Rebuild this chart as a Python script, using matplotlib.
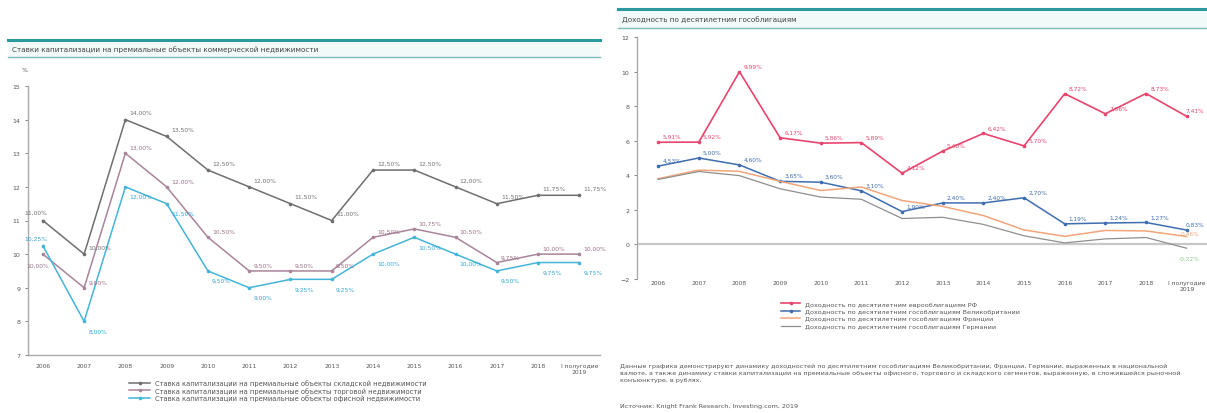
import matplotlib.pyplot as plt
import matplotlib.lines as mlines
import matplotlib.patches as mpatches
import numpy as np

plt.rcParams['font.family'] = ['DejaVu Sans']

years = ["2006", "2007", "2008", "2009", "2010", "2011", "2012", "2013",
         "2014", "2015", "2016", "2017", "2018", "I полугодие\n2019"]

# cap rates, %
cap_warehouse = [11.00, 10.00, 14.00, 13.50, 12.50, 12.00, 11.50, 11.00,
                 12.50, 12.50, 12.00, 11.50, 11.75, 11.75]
cap_retail = [10.00, 9.00, 13.00, 12.00, 10.50, 9.50, 9.50, 9.50,
              10.50, 10.75, 10.50, 9.75, 10.00, 10.00]
cap_office = [10.25, 8.00, 12.00, 11.50, 9.50, 9.00, 9.25, 9.25,
              10.00, 10.50, 10.00, 9.50, 9.75, 9.75]

# 10y bond yields, %
y_russia = [5.91, 5.92, 9.99, 6.17, 5.86, 5.89, 4.12, 5.40,
            6.42, 5.70, 8.72, 7.56, 8.73, 7.41]
y_uk = [4.53, 5.00, 4.60, 3.65, 3.60, 3.10, 1.90, 2.40,
        2.40, 2.70, 1.19, 1.24, 1.27, 0.83]
y_france = [3.80, 4.30, 4.23, 3.65, 3.12, 3.32, 2.54, 2.20,
            1.67, 0.84, 0.47, 0.81, 0.78, 0.46]
y_germany = [3.76, 4.22, 3.98, 3.22, 2.74, 2.61, 1.50, 1.57,
             1.16, 0.50, 0.09, 0.32, 0.40, -0.22]

left_labels = [
    "Ставка капитализации на премиальные объекты складской недвижимости",
    "Ставка капитализации на премиальные объекты торговой недвижимости",
    "Ставка капитализации на премиальные объекты офисной недвижимости",
]
right_labels = [
    "Доходность по десятилетним еврооблигациям РФ",
    "Доходность по десятилетним гособлигациям Великобритании",
    "Доходность по десятилетним гособлигациям Франции",
    "Доходность по десятилетним гособлигациям Германии",
]


def pct(v):
    return f"{v:.2f}%".replace(".", ",")


W, H = 1207, 414
fig = plt.figure(figsize=(W / 100, H / 100), dpi=100)


def band(x0, x1, ytop, ybot):
    # title band: thick teal line, light fill, thin line below
    fig.patches.append(mpatches.Rectangle((x0 / W, 1 - ybot / H), (x1 - x0) / W, (ybot - ytop) / H,
                                          transform=fig.transFigure, facecolor="#f1f9f9",
                                          edgecolor="none", zorder=0))
    fig.lines.append(mlines.Line2D([x0 / W, x1 / W], [1 - ytop / H] * 2, transform=fig.transFigure,
                                   color="#2a9a9e", lw=2.2))
    fig.lines.append(mlines.Line2D([x0 / W, x1 / W], [1 - ybot / H] * 2, transform=fig.transFigure,
                                   color="#7bbcb8", lw=1.0))


band(8, 600, 41, 58)
band(618, 1207, 10, 29)
fig.text(12 / W, 1 - 50 / H, "Ставки капитализации на премиальные объекты коммерческой недвижимости",
         fontsize=5.2, color="#444444", va="center")
fig.text(622 / W, 1 - 20 / H, "Доходность по десятилетним гособлигациям",
         fontsize=5.2, color="#444444", va="center")

x = np.arange(len(years))

# ---- left chart
ax1 = fig.add_axes([28 / W, 1 - 356 / H, (600 - 28) / W, (356 - 87) / H])
ax1.set_xlim(-0.36, 13.5)
ax1.set_ylim(7, 15)
left_cols = ["#6f6f6f", "#a9849a", "#44b4d8"]
left_txt = ["#6f6f6f", "#9a6f88", "#2ea6d6"]
left_off = [(3, 4), (3, 3), (3, -8)]
first_off = [(-5, 5), (-4, -9), (-5, 4)]  # 2006 labels sit over the axis
for vals, lab, c, tc, off, fo in zip([cap_warehouse, cap_retail, cap_office], left_labels,
                                      left_cols, left_txt, left_off, first_off):
    ax1.plot(x, vals, color=c, lw=1.1, marker="o", ms=1.6, label=lab)
    for xi, v in zip(x, vals):
        if xi == 0:
            ax1.annotate(pct(v), (xi, v), xytext=fo, textcoords="offset points",
                         fontsize=4.3, color=tc, ha="center")
        else:
            ax1.annotate(pct(v), (xi, v), xytext=off, textcoords="offset points",
                         fontsize=4.3, color=tc)
ax1.set_xticks(x)
ax1.set_xticklabels(years, fontsize=4.3, color="#555555")
ax1.set_yticks(range(7, 16))
ax1.tick_params(axis="y", labelsize=4.5, colors="#555555", length=2, width=0.5)
ax1.tick_params(axis="x", length=0, pad=6, colors="#555555")
for s in ["top", "right"]:
    ax1.spines[s].set_visible(False)
for s in ["left", "bottom"]:
    ax1.spines[s].set_color("#aaaaaa")
    ax1.spines[s].set_linewidth(1.0)
fig.text(25 / W, 1 - 72 / H, "%", fontsize=4.5, color="#555555", ha="center")
h1, l1 = ax1.get_legend_handles_labels()
fig.legend(h1, l1, loc="upper left", bbox_to_anchor=(126 / W, 1 - 377 / H), frameon=False,
           fontsize=4.9, handlelength=3, labelspacing=0.1, borderpad=0,
           labelcolor="#555555")

# ---- right chart
ax2 = fig.add_axes([637 / W, 1 - 280 / H, (1207 - 637) / W, (280 - 38) / H])
ax2.set_xlim(-0.52, 13.5)
ax2.set_ylim(-2, 12)
ax2.axhline(0, color="#c8c8c8", lw=1.6, zorder=1)
right_cols = ["#e8456e", "#3e6db0", "#f2a57a", "#8f8f8f"]
right_lw = [1.2, 1.1, 1.1, 0.9]
for vals, lab, c, lw in zip([y_russia, y_uk, y_france, y_germany], right_labels, right_cols, right_lw):
    mk = "o" if c in ("#e8456e", "#3e6db0") else None
    ax2.plot(x, vals, color=c, lw=lw, marker=mk, ms=1.6, label=lab, zorder=3)
last = len(years) - 1
for vals, c in [(y_russia, "#e8456e"), (y_uk, "#3e6db0")]:
    for xi, v in zip(x, vals):
        o = (3, 3) if xi < last else (-1, 3)
        ax2.annotate(pct(v), (xi, v), xytext=o, textcoords="offset points",
                     fontsize=4.2, color=c)
ax2.annotate(pct(y_france[-1]), (x[-1], y_france[-1]), xytext=(-4, 1), textcoords="offset points",
             fontsize=4.2, color="#f2a57a")
ax2.annotate(pct(y_germany[-1]), (x[-1], y_germany[-1]), xytext=(-6, -8), textcoords="offset points",
             fontsize=4.2, color="#8fc98a")
ax2.set_xticks(x)
ax2.set_xticklabels(years, fontsize=4.3, color="#555555")
ax2.set_yticks(range(-2, 13, 2))
ax2.tick_params(axis="y", labelsize=4.5, colors="#555555", length=2, width=0.5)
ax2.tick_params(axis="x", length=0, pad=1, colors="#555555")
for s in ["top", "right", "bottom"]:
    ax2.spines[s].set_visible(False)
ax2.spines["left"].set_color("#aaaaaa")
ax2.spines["left"].set_linewidth(1.0)
h2, l2 = ax2.get_legend_handles_labels()
fig.legend(h2, l2, loc="upper left", bbox_to_anchor=(778 / W, 1 - 299 / H), frameon=False,
           fontsize=4.6, handlelength=3, labelspacing=0.3, borderpad=0,
           labelcolor="#555555")

note = ("Данные графика демонстрируют динамику доходностей по десятилетним гособлигациям Великобритании, "
        "Франции, Германии, выраженных в национальной\n"
        "валюте, а также динамику ставки капитализации на премиальные объекты офисного, торгового и "
        "складского сегментов, выраженную, в сложившейся рыночной\n"
        "конъюнктуре, в рублях.")
fig.text(620 / W, 1 - 364 / H, note, fontsize=4.6, color="#555555", va="top", linespacing=1.45)
fig.text(620 / W, 1 - 407 / H, "Источник: Knight Frank Research, Investing.com, 2019",
         fontsize=4.6, color="#555555", va="center")

fig.savefig("out.png", dpi=100)
